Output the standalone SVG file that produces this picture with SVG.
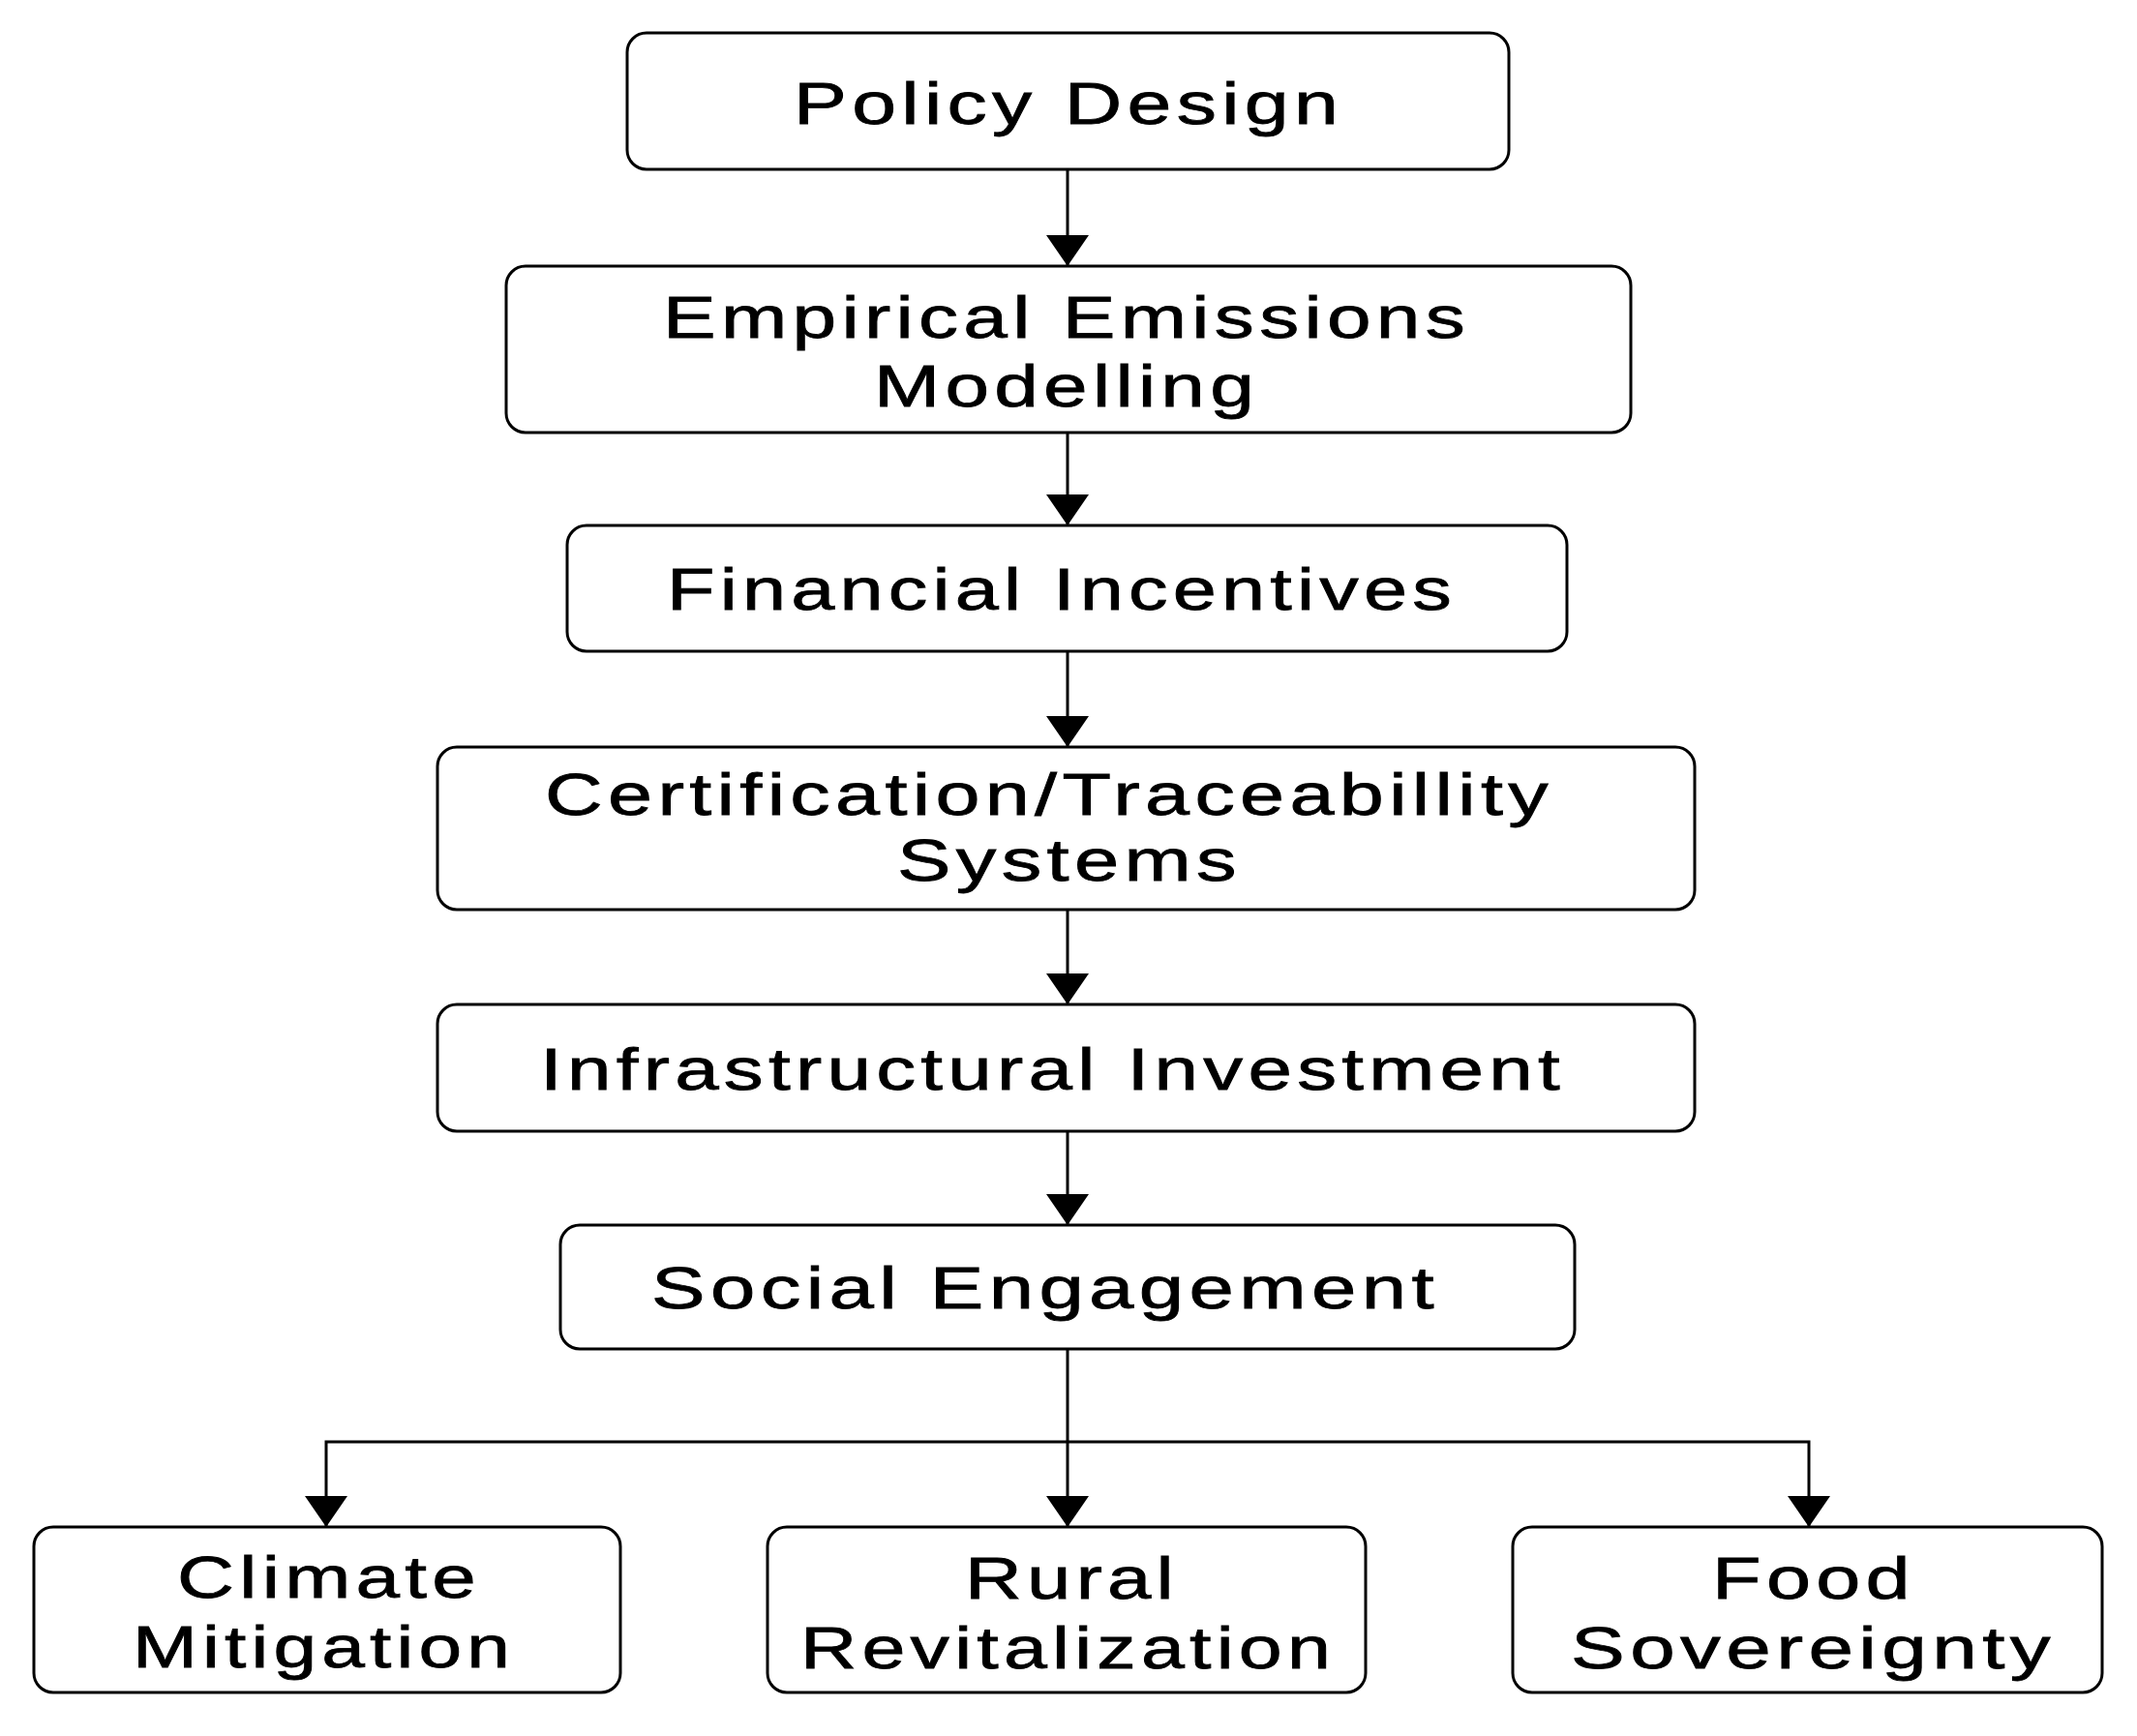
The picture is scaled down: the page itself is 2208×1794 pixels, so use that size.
<svg xmlns="http://www.w3.org/2000/svg" width="2208" height="1794" viewBox="0 0 2208 1794">
<style>
.box{fill:#ffffff;stroke:#000000;stroke-width:3}
.lbl{font-family:"Liberation Sans",Arial,Helvetica,sans-serif;font-size:62px;fill:#000000;stroke:#000000;stroke-width:0.8;letter-spacing:4px}
.con{fill:none;stroke:#000000;stroke-width:3}
</style>
<defs>
<marker id="ah" viewBox="0 0 32 44" refX="32" refY="22" markerWidth="32" markerHeight="44" markerUnits="userSpaceOnUse" orient="auto">
<path d="M0,0 L32,22 L0,44 Z" fill="#000000"/>
</marker>
</defs>
<rect x="0" y="0" width="2208" height="1794" fill="#ffffff"/>
<g id="connectors">
<path class="con" d="M1103,175 V275" marker-end="url(#ah)"/>
<path class="con" d="M1103,447 V543" marker-end="url(#ah)"/>
<path class="con" d="M1103,673 V772" marker-end="url(#ah)"/>
<path class="con" d="M1103,940 V1038" marker-end="url(#ah)"/>
<path class="con" d="M1103,1169 V1266" marker-end="url(#ah)"/>
<path class="con" d="M1103,1394 V1578" marker-end="url(#ah)"/>
<path class="con" d="M1103,1490 H337 V1578" marker-end="url(#ah)"/>
<path class="con" d="M1103,1490 H1869 V1578" marker-end="url(#ah)"/>
</g>
<g id="policy-design">
<rect class="box" x="648" y="34" width="911" height="141" rx="20"/>
<text class="lbl" x="820" y="128" textLength="568" lengthAdjust="spacingAndGlyphs">Policy Design</text>
</g>
<g id="empirical-emissions-modelling">
<rect class="box" x="523" y="275" width="1162" height="172" rx="20"/>
<text class="lbl" x="685" y="349" textLength="834" lengthAdjust="spacingAndGlyphs">Empirical Emissions</text>
<text class="lbl" x="903" y="420" textLength="398" lengthAdjust="spacingAndGlyphs">Modelling</text>
</g>
<g id="financial-incentives">
<rect class="box" x="586" y="543" width="1033" height="130" rx="20"/>
<text class="lbl" x="689" y="630" textLength="816" lengthAdjust="spacingAndGlyphs">Financial Incentives</text>
</g>
<g id="certification-traceability">
<rect class="box" x="452" y="772" width="1299" height="168" rx="20"/>
<text class="lbl" x="563" y="842" textLength="1042" lengthAdjust="spacingAndGlyphs">Certification/Traceabillity</text>
<text class="lbl" x="927" y="910" textLength="356" lengthAdjust="spacingAndGlyphs">Systems</text>
</g>
<g id="infrastructural-investment">
<rect class="box" x="452" y="1038" width="1299" height="131" rx="20"/>
<text class="lbl" x="558" y="1126" textLength="1059" lengthAdjust="spacingAndGlyphs">Infrastructural Investment</text>
</g>
<g id="social-engagement">
<rect class="box" x="579" y="1266" width="1048" height="128" rx="20"/>
<text class="lbl" x="673" y="1352" textLength="814" lengthAdjust="spacingAndGlyphs">Social Engagement</text>
</g>
<g id="climate-mitigation">
<rect class="box" x="35" y="1578" width="606" height="171" rx="20"/>
<text class="lbl" x="183" y="1651" textLength="314" lengthAdjust="spacingAndGlyphs">Climate</text>
<text class="lbl" x="137" y="1723" textLength="395" lengthAdjust="spacingAndGlyphs">Mitigation</text>
</g>
<g id="rural-revitalization">
<rect class="box" x="793" y="1578" width="618" height="171" rx="20"/>
<text class="lbl" x="997" y="1652" textLength="221" lengthAdjust="spacingAndGlyphs">Rural</text>
<text class="lbl" x="827" y="1724" textLength="553" lengthAdjust="spacingAndGlyphs">Revitalization</text>
</g>
<g id="food-sovereignty">
<rect class="box" x="1563" y="1578" width="609" height="171" rx="20"/>
<text class="lbl" x="1769" y="1652" textLength="210" lengthAdjust="spacingAndGlyphs">Food</text>
<text class="lbl" x="1623" y="1724" textLength="501" lengthAdjust="spacingAndGlyphs">Sovereignty</text>
</g>
</svg>
